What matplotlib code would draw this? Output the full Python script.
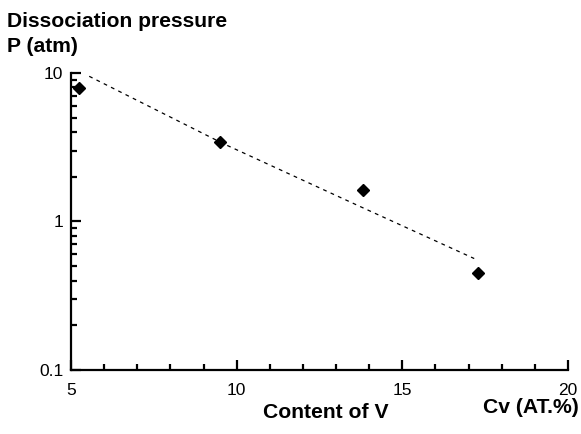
import matplotlib
matplotlib.use("Agg")
import matplotlib.pyplot as plt
from matplotlib.ticker import LogLocator, FixedLocator, MultipleLocator, NullFormatter

# measured points (content of V in at.%, dissociation pressure in atm)
cv_points = [5.24, 9.5, 13.82, 17.27]
p_points = [7.9, 3.45, 1.64, 0.447]

# dashed trend line
cv_line = [5.55, 9.59, 13.73, 17.17]
p_line = [9.5, 3.35, 1.26, 0.563]

x_ticks = [5, 10, 15, 20]
y_ticks = [0.1, 1, 10]
y_tick_labels = ["0.1", "1", "10"]

plt.rcParams["font.family"] = ["Liberation Sans", "DejaVu Sans"]

fig = plt.figure(figsize=(5.81, 4.34), dpi=100)
ax = fig.add_axes([0.1222, 0.1475, 0.8554, 0.6843])

ax.plot(cv_line, p_line, color="black", linewidth=0.9, linestyle=(0, (3, 3.5)))
ax.plot(cv_points, p_points, linestyle="none", marker="D", markersize=6, color="black")

ax.set_yscale("log")
ax.set_xlim(5, 20)
ax.set_ylim(0.1, 10)

ax.xaxis.set_major_locator(FixedLocator(x_ticks))
ax.xaxis.set_minor_locator(MultipleLocator(1))
ax.yaxis.set_major_locator(FixedLocator(y_ticks))
ax.yaxis.set_minor_locator(LogLocator(base=10, subs=range(2, 10)))
ax.yaxis.set_minor_formatter(NullFormatter())
ax.set_yticklabels(y_tick_labels)
ax.set_xticklabels([str(t) for t in x_ticks])

for side in ["top", "right"]:
    ax.spines[side].set_visible(False)
for side in ["left", "bottom"]:
    ax.spines[side].set_linewidth(1.6)

ax.tick_params(which="major", direction="in", length=7, width=1.6, labelsize=12.5)
ax.tick_params(which="minor", direction="in", length=4.5, width=1.6)
ax.tick_params(axis="x", which="major", pad=9.5)
ax.tick_params(axis="y", which="major", pad=5.5)

fig.text(0.012, 0.951, "Dissociation pressure", fontsize=15.2, fontweight="bold", ha="left", va="center")
fig.text(0.012, 0.893, "P (atm)", fontsize=15.2, fontweight="bold", ha="left", va="center")
fig.text(0.56, 0.05, "Content of V", fontsize=15.2, fontweight="bold", ha="center", va="center")
fig.text(0.996, 0.06, "Cv (AT.%)", fontsize=15.2, fontweight="bold", ha="right", va="center")

fig.savefig("out.png", dpi=100)
